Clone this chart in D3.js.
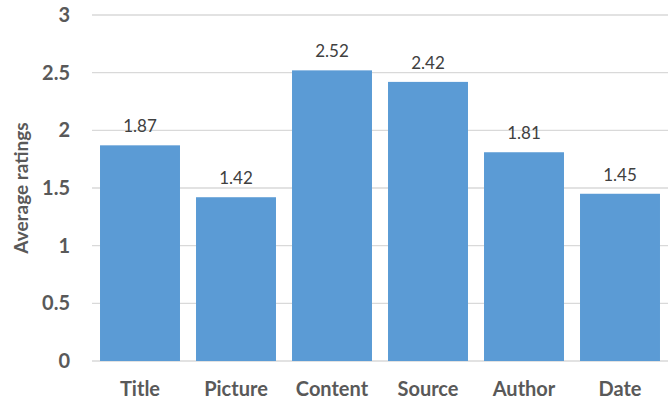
<!DOCTYPE html>
<html>
<head>
<meta charset="utf-8">
<script src="https://cdn.jsdelivr.net/npm/d3@7"></script>
<style>
  html, body { margin: 0; padding: 0; background: #fff; }
  svg { display: block; }
</style>
</head>
<body>
<svg id="chart" width="672" height="405"></svg>
<script>
// Average rating per article element
const categories = ["Title", "Picture", "Content", "Source", "Author", "Date"];
const ratings = [1.87, 1.42, 2.52, 2.42, 1.81, 1.45];
const yTicks = [0, 0.5, 1, 1.5, 2, 2.5, 3];
const yTickLabels = ["0", "0.5", "1", "1.5", "2", "2.5", "3"];

const svg = d3.select("#chart");
const plotLeft = 92, plotRight = 668, plotTop = 15, plotBottom = 361;

const x = d3.scaleBand()
  .domain(categories)
  .range([plotLeft, plotRight])
  .paddingInner(0.167)
  .paddingOuter(0.0835);

const y = d3.scaleLinear().domain([0, 3]).range([plotBottom, plotTop]);

const font = "Lato, 'Open Sans', sans-serif";

// Horizontal gridlines
svg.append("g")
  .selectAll("line")
  .data(yTicks)
  .join("line")
  .attr("x1", plotLeft)
  .attr("x2", plotRight)
  .attr("y1", d => y(d))
  .attr("y2", d => y(d))
  .attr("stroke", "#d9d9d9")
  .attr("stroke-width", 1.3);

// Y axis tick labels
const yAxis = d3.axisLeft(y)
  .tickValues(yTicks)
  .tickFormat((d, i) => yTickLabels[i])
  .tickSize(0)
  .tickPadding(22);
const gy = svg.append("g").attr("transform", `translate(${plotLeft},0)`).call(yAxis);
gy.select(".domain").remove();
gy.selectAll("text")
  .attr("font-family", font)
  .attr("font-size", 20)
  .attr("font-weight", "bold")
  .attr("fill", "#595959");

// Bars
svg.append("g")
  .selectAll("rect")
  .data(categories)
  .join("rect")
  .attr("x", d => x(d))
  .attr("width", x.bandwidth())
  .attr("y", (d, i) => y(ratings[i]))
  .attr("height", (d, i) => y(0) - y(ratings[i]))
  .attr("fill", "#5b9bd5");

// Value labels
svg.append("g")
  .selectAll("text")
  .data(categories)
  .join("text")
  .attr("x", d => x(d) + x.bandwidth() / 2)
  .attr("y", (d, i) => y(ratings[i]) - 13)
  .attr("text-anchor", "middle")
  .attr("font-family", font)
  .attr("font-size", 17)
  .attr("fill", "#404040")
  .text((d, i) => ratings[i].toFixed(2));

// X axis category labels
const xAxis = d3.axisBottom(x).tickSize(0).tickPadding(21);
const gx = svg.append("g").attr("transform", `translate(0,${plotBottom})`).call(xAxis);
gx.select(".domain").remove();
gx.selectAll("text")
  .attr("font-family", font)
  .attr("font-size", 20)
  .attr("font-weight", "bold")
  .attr("fill", "#595959");

// Y axis title
svg.append("text")
  .attr("transform", `translate(28,${(plotTop + plotBottom) / 2}) rotate(-90)`)
  .attr("text-anchor", "middle")
  .attr("font-family", font)
  .attr("font-size", 19)
  .attr("font-weight", "bold")
  .attr("fill", "#595959")
  .text("Average ratings");
</script>
</body>
</html>
